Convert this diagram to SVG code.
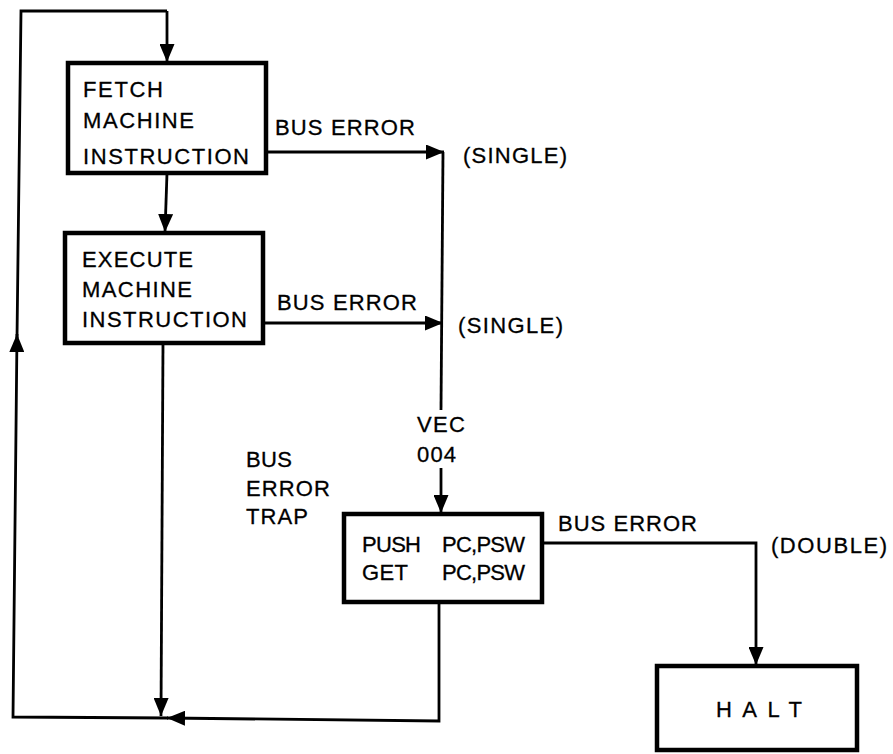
<svg xmlns="http://www.w3.org/2000/svg" width="893" height="754" viewBox="0 0 893 754">
<style>
  .box { fill: #fff; stroke: #000; stroke-width: 4.5; }
  .con { fill: none; stroke: #000; stroke-width: 2.8; }
  text { font-family: "Liberation Sans", Arial, Helvetica, sans-serif; font-size: 22px; fill: #000; stroke: #000; stroke-width: 0.3; }
</style>
<defs>
  <marker id="arrow" markerUnits="userSpaceOnUse" markerWidth="19" markerHeight="15" refX="18" refY="7.5" orient="auto">
    <path d="M0,0 L18,7.5 L0,15 z" fill="#000"/>
  </marker>
</defs>
<rect width="893" height="754" fill="#fff"/>
<g id="connectors">
  <path class="con" d="M167,11 L167,62" marker-end="url(#arrow)"/>
  <path class="con" d="M17,338 L21,11 L167,11"/>
  <path class="con" d="M168,718 L13,717 L17,334" marker-end="url(#arrow)"/>
  <path class="con" d="M167,173 L165,232" marker-end="url(#arrow)"/>
  <path class="con" d="M264,152 L444,152" marker-end="url(#arrow)"/>
  <path class="con" d="M263,323 L443,323" marker-end="url(#arrow)"/>
  <path class="con" d="M443,152 L441,410"/>
  <path class="con" d="M441,468 L441,513" marker-end="url(#arrow)"/>
  <path class="con" d="M163,343 L161,716" marker-end="url(#arrow)"/>
  <path class="con" d="M439,603 L439,721 L167,718" marker-end="url(#arrow)"/>
  <path class="con" d="M542,543 L756,543 L756,665" marker-end="url(#arrow)"/>
  <text x="275" y="135" textLength="140" lengthAdjust="spacing">BUS ERROR</text>
  <text x="463" y="163" textLength="104" lengthAdjust="spacing">(SINGLE)</text>
  <text x="277" y="310" textLength="140" lengthAdjust="spacing">BUS ERROR</text>
  <text x="458" y="333" textLength="105" lengthAdjust="spacing">(SINGLE)</text>
  <text x="417" y="432" textLength="48" lengthAdjust="spacing">VEC</text>
  <text x="417" y="462" textLength="39" lengthAdjust="spacing">004</text>
  <text x="558" y="531" textLength="139" lengthAdjust="spacing">BUS ERROR</text>
  <text x="771" y="553" textLength="116" lengthAdjust="spacing">(DOUBLE)</text>
</g>
<g id="fetch">
  <rect class="box" x="68" y="63" width="198" height="110"/>
  <text x="83" y="97" textLength="80" lengthAdjust="spacing">FETCH</text>
  <text x="83" y="128" textLength="111" lengthAdjust="spacing">MACHINE</text>
  <text x="83" y="164" textLength="166" lengthAdjust="spacing">INSTRUCTION</text>
</g>
<g id="execute">
  <rect class="box" x="65" y="233" width="198" height="110"/>
  <text x="82" y="267" textLength="111" lengthAdjust="spacing">EXECUTE</text>
  <text x="82" y="297" textLength="110" lengthAdjust="spacing">MACHINE</text>
  <text x="82" y="327" textLength="165" lengthAdjust="spacing">INSTRUCTION</text>
</g>
<g id="trap-label">
  <text x="246" y="467" textLength="46" lengthAdjust="spacing">BUS</text>
  <text x="246" y="496" textLength="84" lengthAdjust="spacing">ERROR</text>
  <text x="246" y="524" textLength="62" lengthAdjust="spacing">TRAP</text>
</g>
<g id="push">
  <rect class="box" x="344" y="514" width="198" height="88"/>
  <text x="362" y="552" textLength="59" lengthAdjust="spacing">PUSH</text>
  <text x="442" y="552" textLength="83" lengthAdjust="spacing">PC,PSW</text>
  <text x="362" y="580" textLength="46" lengthAdjust="spacing">GET</text>
  <text x="442" y="580" textLength="83" lengthAdjust="spacing">PC,PSW</text>
</g>
<g id="halt">
  <rect class="box" x="657" y="666" width="200" height="84"/>
  <text x="716" y="717" textLength="86" lengthAdjust="spacing">HALT</text>
</g>
</svg>
